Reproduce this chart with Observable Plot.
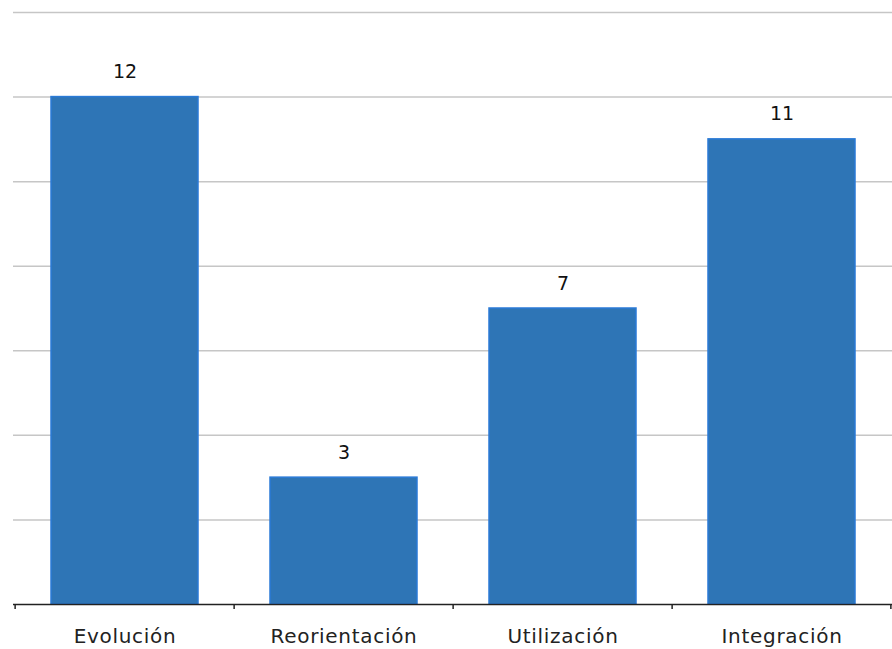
<!DOCTYPE html>
<html>
<head>
<meta charset="utf-8">
<script src="https://cdn.jsdelivr.net/npm/d3@7"></script>
<script src="https://cdn.jsdelivr.net/npm/@observablehq/plot@0.6"></script>
<style>
  html, body { margin: 0; padding: 0; background: #fff; }
  svg { display: block; }
  g[aria-label="x-axis tick label"] text { letter-spacing: 0.7px; }
</style>
</head>
<body>
<div id="chart"></div>
<script>
const categories = ["Evolución", "Reorientación", "Utilización", "Integración"];
const values = [12, 3, 7, 11];
const yTicks = [0, 2, 4, 6, 8, 10, 12, 14];

const data = categories.map((c, i) => ({ category: c, value: values[i] }));

const W = 892, H = 649, ML = 13, MR = 0;
const step = (W - ML - MR) / categories.length;

const chart = Plot.plot({
  width: W,
  height: H,
  marginLeft: ML,
  marginRight: MR,
  marginTop: 12,
  marginBottom: 45,
  style: { fontFamily: "'DejaVu Sans', Verdana, sans-serif", background: "#fff", overflow: "visible" },
  x: { domain: categories, paddingInner: 0.33, paddingOuter: 0.165, label: null },
  y: { domain: [0, 14], label: null },
  marks: [
    Plot.ruleY(yTicks.filter(d => d > 0), { stroke: "#c6c6c6", strokeWidth: 1.5 }),
    Plot.barY(data, { x: "category", y: "value", fill: "#2e75b6", stroke: "#2a7ad6", strokeWidth: 1.5 }),
    Plot.ruleY([0], { stroke: "#222", strokeWidth: 1.5 }),
    Plot.ruleX(categories, { x: d => d, dx: -step / 2, y1: 0, y2: -0.12, stroke: "#222", strokeWidth: 1.5 }),
    Plot.ruleX([categories[categories.length - 1]], { x: d => d, dx: step / 2 - 1, y1: 0, y2: -0.12, stroke: "#222", strokeWidth: 1.5 }),
    Plot.text(data, { x: "category", y: "value", text: d => String(d.value), dy: -25, fontSize: 19, fill: "#111" }),
    Plot.axisX({ tickSize: 0, tickPadding: 24, fontSize: 20, fill: "#222" }),
    Plot.axisY({ ticks: [], tickSize: 0, label: null })
  ]
});

document.getElementById("chart").appendChild(chart);
</script>
</body>
</html>
